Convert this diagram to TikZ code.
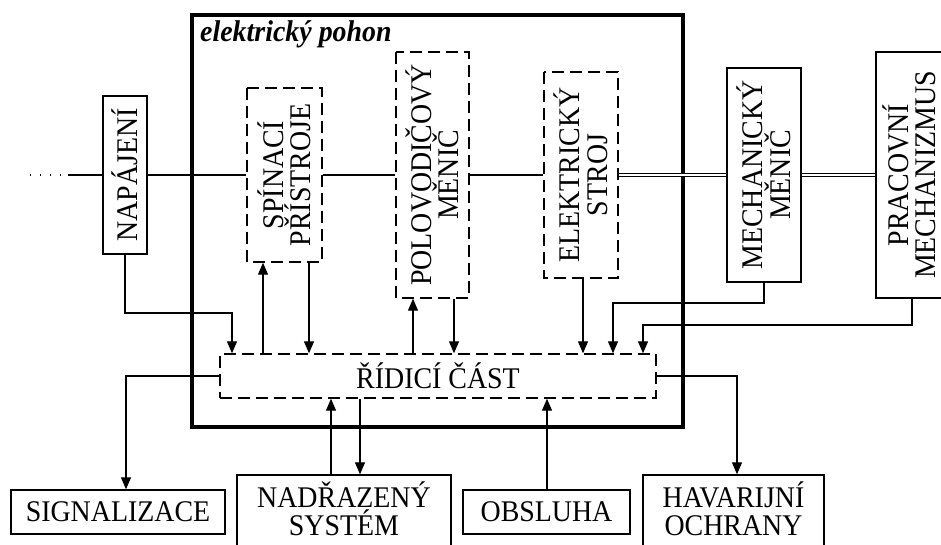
\documentclass[tikz,border=0pt]{standalone}
\usepackage{fontspec}
\setmainfont[FakeStretch=0.93]{Liberation Serif}
\usetikzlibrary{arrows.meta}
\begin{document}
\begin{tikzpicture}[x=1pt,y=-1pt,
  lbl/.style={font=\fontsize{30}{27.5}\selectfont, align=center, inner sep=0pt},
  solidbox/.style={draw, line width=1.4pt, lbl},
  dashbox/.style={draw, line width=1.4pt, dash pattern=on 12pt off 6pt, lbl},
  conn/.style={line width=1.2pt},
  arr/.style={conn, -{Triangle[length=12pt,width=10pt]}},
  shaft/.style={double, line width=1pt, double distance=1.8pt}
]
\useasboundingbox (0,0) rectangle (941,544);
% outer frame
\node[draw, line width=3.5pt, minimum width=491pt, minimum height=412pt, inner sep=0pt] (drive) at (437.5,221) {};
\node[font=\fontsize{30}{30}\selectfont\bfseries\itshape, anchor=base west, inner sep=0pt] (title) at (200,41) {elektrický pohon};
% upper blocks
\node[solidbox, rotate=90, minimum width=158pt, minimum height=44pt] (nap) at (125,175) {NAPÁJENÍ};
\node[dashbox, rotate=90, minimum width=174pt, minimum height=75pt] (spin) at (284.5,175) {SPÍNACÍ\\PŘÍSTROJE};
\node[dashbox, rotate=90, minimum width=246pt, minimum height=73pt] (polo) at (432.5,175) {POLOVODIČOVÝ\\MĚNIČ};
\node[dashbox, rotate=90, minimum width=206pt, minimum height=74pt] (elst) at (581,175) {ELEKTRICKÝ\\STROJ};
\node[solidbox, rotate=90, minimum width=214pt, minimum height=74pt] (mech) at (764,175) {MECHANICKÝ\\MĚNIČ};
\node[draw, line width=1.4pt, rotate=90, minimum width=246pt, minimum height=82pt, inner sep=0pt] (prac) at (917,175) {};
\node[lbl, rotate=90, font=\fontsize{30}{27}\selectfont] (pract) at (909,175) {PRACOVNÍ\\MECHANIZMUS};
% control
\node[dashbox, minimum width=436pt, minimum height=44pt] (rid) at (438,376) {ŘÍDICÍ ČÁST};
% lower blocks
\node[solidbox, minimum width=214pt, minimum height=44pt] (sig) at (118,512) {SIGNALIZACE};
\node[draw, line width=1.4pt, minimum width=214pt, minimum height=100pt, inner sep=0pt] (nad) at (344,525) {};
\node[lbl] (nadt) at (344,509) {NADŘAZENÝ\\SYSTÉM};
\node[solidbox, minimum width=167pt, minimum height=44pt] (obs) at (546.5,512) {OBSLUHA};
\node[draw, line width=1.4pt, minimum width=181pt, minimum height=100pt, inner sep=0pt] (hav) at (733.5,525) {};
\node[lbl] (havt) at (733.5,509) {HAVARIJNÍ\\OCHRANY};
% power line
\coordinate (feed) at (30,175);
\coordinate (feedend) at (68,175);
\draw[conn, dash pattern=on 1pt off 9pt] (feed) -- (feedend);
\draw[conn] (feedend) -- (nap.north);
\draw[conn] (nap.south) -- (spin.north);
\draw[conn] (spin.south) -- (polo.north);
\draw[conn] (polo.south) -- (elst.north);
\draw[shaft] (elst.south) -- (mech.north);
\draw[shaft] (mech.south) -- (prac.north);
% signals to/from control
\draw[arr] (nap.west) |- (232,313) -- (232,0 |- rid.north);
\draw[arr] (263,0 |- rid.north) -- (263,0 |- spin.west);
\draw[arr] (309,0 |- spin.west) -- (309,0 |- rid.north);
\draw[arr] (413,0 |- rid.north) -- (413,0 |- polo.west);
\draw[arr] (454,0 |- polo.west) -- (454,0 |- rid.north);
\draw[arr] (583,0 |- elst.west) -- (583,0 |- rid.north);
\draw[arr] (mech.west) |- (613,303) -- (613,0 |- rid.north);
\draw[arr] (912,0 |- prac.west) |- (643,325) -- (643,0 |- rid.north);
\draw[arr] (rid.west) -| (126,0 |- sig.north);
\draw[arr] (rid.east) -| (737,0 |- hav.north);
\draw[arr] (331,0 |- nad.north) -- (331,0 |- rid.south);
\draw[arr] (360,0 |- rid.south) -- (360,0 |- nad.north);
\draw[arr] (547,0 |- obs.north) -- (547,0 |- rid.south);
\end{tikzpicture}
\end{document}
